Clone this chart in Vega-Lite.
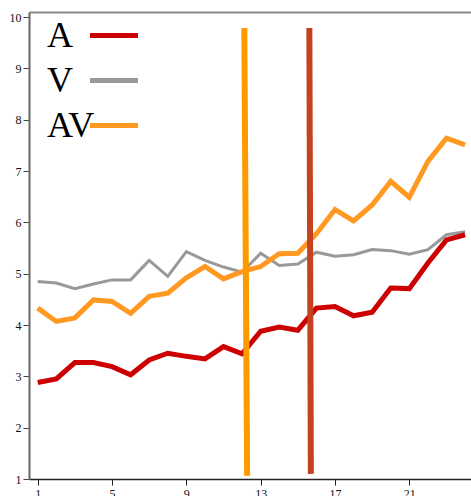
{
  "$schema": "https://vega.github.io/schema/vega-lite/v6.json",
  "width": 442,
  "height": 467,
  "autosize": {"type": "none"},
  "padding": {"left": 29, "top": 12, "right": 0, "bottom": 17},
  "background": "white",
  "config": {"view": {"stroke": null}, "font": "Liberation Serif"},
  "datasets": {
    "lines": [
      {"x": 1, "s": "A", "v": 2.88}, {"x": 2, "s": "A", "v": 2.95}, {"x": 3, "s": "A", "v": 3.27}, {"x": 4, "s": "A", "v": 3.27},
      {"x": 5, "s": "A", "v": 3.19}, {"x": 6, "s": "A", "v": 3.03}, {"x": 7, "s": "A", "v": 3.32}, {"x": 8, "s": "A", "v": 3.45},
      {"x": 9, "s": "A", "v": 3.39}, {"x": 10, "s": "A", "v": 3.34}, {"x": 11, "s": "A", "v": 3.58}, {"x": 12, "s": "A", "v": 3.44},
      {"x": 13, "s": "A", "v": 3.88}, {"x": 14, "s": "A", "v": 3.96}, {"x": 15, "s": "A", "v": 3.90}, {"x": 16, "s": "A", "v": 4.33},
      {"x": 17, "s": "A", "v": 4.36}, {"x": 18, "s": "A", "v": 4.18}, {"x": 19, "s": "A", "v": 4.25}, {"x": 20, "s": "A", "v": 4.72},
      {"x": 21, "s": "A", "v": 4.71}, {"x": 22, "s": "A", "v": 5.21}, {"x": 23, "s": "A", "v": 5.66}, {"x": 24, "s": "A", "v": 5.76},
      {"x": 1, "s": "V", "v": 4.85}, {"x": 2, "s": "V", "v": 4.82}, {"x": 3, "s": "V", "v": 4.71}, {"x": 4, "s": "V", "v": 4.80},
      {"x": 5, "s": "V", "v": 4.88}, {"x": 6, "s": "V", "v": 4.88}, {"x": 7, "s": "V", "v": 5.26}, {"x": 8, "s": "V", "v": 4.95},
      {"x": 9, "s": "V", "v": 5.43}, {"x": 10, "s": "V", "v": 5.26}, {"x": 11, "s": "V", "v": 5.13}, {"x": 12, "s": "V", "v": 5.03},
      {"x": 13, "s": "V", "v": 5.40}, {"x": 14, "s": "V", "v": 5.16}, {"x": 15, "s": "V", "v": 5.19}, {"x": 16, "s": "V", "v": 5.42},
      {"x": 17, "s": "V", "v": 5.34}, {"x": 18, "s": "V", "v": 5.37}, {"x": 19, "s": "V", "v": 5.47}, {"x": 20, "s": "V", "v": 5.45},
      {"x": 21, "s": "V", "v": 5.38}, {"x": 22, "s": "V", "v": 5.47}, {"x": 23, "s": "V", "v": 5.76}, {"x": 24, "s": "V", "v": 5.82},
      {"x": 1, "s": "AV", "v": 4.33}, {"x": 2, "s": "AV", "v": 4.07}, {"x": 3, "s": "AV", "v": 4.14}, {"x": 4, "s": "AV", "v": 4.49},
      {"x": 5, "s": "AV", "v": 4.46}, {"x": 6, "s": "AV", "v": 4.23}, {"x": 7, "s": "AV", "v": 4.56}, {"x": 8, "s": "AV", "v": 4.62},
      {"x": 9, "s": "AV", "v": 4.92}, {"x": 10, "s": "AV", "v": 5.14}, {"x": 11, "s": "AV", "v": 4.90}, {"x": 12, "s": "AV", "v": 5.04},
      {"x": 13, "s": "AV", "v": 5.14}, {"x": 14, "s": "AV", "v": 5.39}, {"x": 15, "s": "AV", "v": 5.40}, {"x": 16, "s": "AV", "v": 5.78},
      {"x": 17, "s": "AV", "v": 6.25}, {"x": 18, "s": "AV", "v": 6.03}, {"x": 19, "s": "AV", "v": 6.34}, {"x": 20, "s": "AV", "v": 6.80},
      {"x": 21, "s": "AV", "v": 6.49}, {"x": 22, "s": "AV", "v": 7.19}, {"x": 23, "s": "AV", "v": 7.64}, {"x": 24, "s": "AV", "v": 7.51}
    ],
    "rules": [
      {"r": "AV", "x": 12.12, "x2": 12.27, "v": 9.79, "v2": 1.064},
      {"r": "A", "x": 15.62, "x2": 15.70, "v": 9.79, "v2": 1.10}
    ]
  },
  "layer": [
    {
      "data": {"name": "lines"},
      "transform": [{"filter": "datum.s === 'V'"}],
      "mark": {"type": "line", "strokeWidth": 3, "strokeCap": "butt"},
      "encoding": {
        "x": {"field": "x", "type": "quantitative", "scale": {"domain": [0.53, 24.32], "nice": false, "zero": false},
          "axis": {"orient": "bottom", "values": [1, 5, 9, 13, 17, 21], "title": null, "grid": false, "domainColor": "#222", "domainWidth": 1.5,
            "tickColor": "#222", "tickSize": 6, "labelPadding": 3, "labelFont": "Liberation Serif", "labelFontSize": 12, "labelColor": "#111"}},
        "y": {"field": "v", "type": "quantitative", "scale": {"domain": [1, 10.1], "nice": false, "zero": false},
          "axis": {"values": [1, 2, 3, 4, 5, 6, 7, 8, 9, 10], "title": null, "grid": false, "domainColor": "#666", "domainWidth": 2,
            "tickColor": "#444", "tickSize": 6, "labelPadding": 2, "labelFont": "Liberation Serif", "labelFontSize": 12, "labelColor": "#111"}},
        "color": {"field": "s", "type": "nominal", "scale": {"domain": ["A", "V", "AV"], "range": ["#cc0000", "#999999", "#ff9922"]},
          "legend": {"orient": "none", "legendX": 18, "legendY": -3, "title": null, "symbolType": "stroke", "symbolSize": 2304,
            "symbolStrokeWidth": 5, "labelFont": "Liberation Serif", "labelFontSize": 36, "labelColor": "#000", "labelOffset": -93.5,
            "symbolOffset": 40.5, "rowPadding": -8, "labelBaseline": "middle"}}
      }
    },
    {
      "data": {"name": "lines"},
      "transform": [{"filter": "datum.s !== 'V'"}],
      "mark": {"type": "line", "strokeWidth": 5, "strokeCap": "butt"},
      "encoding": {
        "x": {"field": "x", "type": "quantitative", "axis": null},
        "y": {"field": "v", "type": "quantitative",
          "axis": {"values": [1, 2, 3, 4, 5, 6, 7, 8, 9, 10], "title": null, "grid": false, "domainColor": "#666", "domainWidth": 2,
            "tickColor": "#444", "tickSize": 6, "labelPadding": 2, "labelFont": "Liberation Serif", "labelFontSize": 12, "labelColor": "#111"}},
        "color": {"field": "s", "type": "nominal"}
      }
    },
    {
      "data": {"name": "rules"},
      "mark": {"type": "rule", "strokeWidth": 6, "strokeCap": "butt"},
      "encoding": {
        "x": {"field": "x", "type": "quantitative",
          "axis": {"orient": "top", "labels": false, "ticks": false, "title": null, "grid": false, "domainColor": "#888", "domainWidth": 2}},
        "x2": {"field": "x2"},
        "y": {"field": "v", "type": "quantitative",
          "axis": {"values": [1, 2, 3, 4, 5, 6, 7, 8, 9, 10], "title": null, "grid": false, "domainColor": "#666", "domainWidth": 2,
            "tickColor": "#444", "tickSize": 6, "labelPadding": 2, "labelFont": "Liberation Serif", "labelFontSize": 12, "labelColor": "#111"}},
        "y2": {"field": "v2"},
        "stroke": {"field": "r", "type": "nominal", "scale": {"domain": ["AV", "A"], "range": ["#ff9900", "#c4421f"]}, "legend": null}
      }
    }
  ],
  "resolve": {"axis": {"x": "independent"}}
}
